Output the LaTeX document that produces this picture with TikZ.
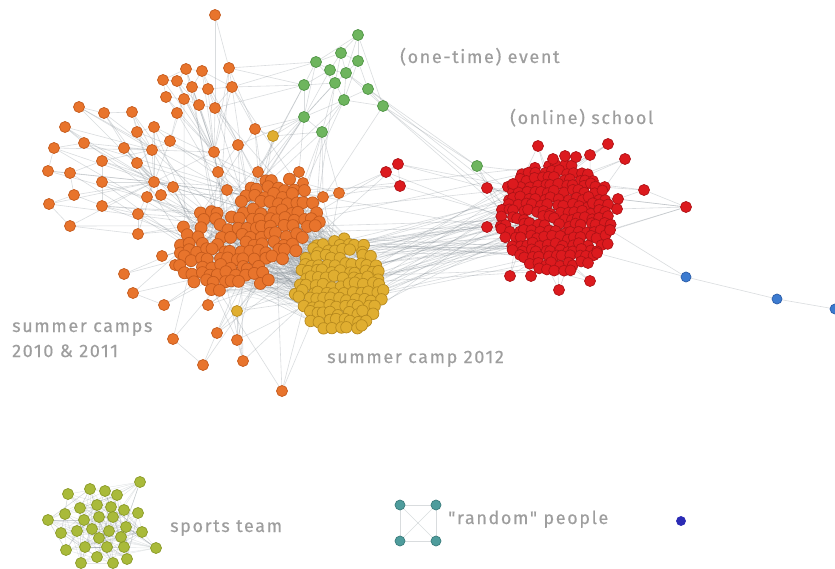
\documentclass[tikz,border=0pt]{standalone}
\usepackage{fontspec}
\newfontfamily\labfont[LetterSpace=9,FakeBold=0.35]{Fira Sans}
\pgfdeclarelayer{bg}
\pgfsetlayers{bg,main}
\newcount\gcnt
\definecolor{ocol}{HTML}{E8742C}\definecolor{ocolD}{HTML}{C45A1C}
\definecolor{ycol}{HTML}{E0AE30}\definecolor{ycolD}{HTML}{B88A1E}
\definecolor{rcol}{HTML}{DC1A1E}\definecolor{rcolD}{HTML}{AE1216}
\definecolor{gcol}{HTML}{6EB55E}\definecolor{gcolD}{HTML}{4F9445}
\definecolor{bcol}{HTML}{3C7BD0}\definecolor{bcolD}{HTML}{2A5CA8}
\definecolor{scol}{HTML}{A9BA3A}\definecolor{scolD}{HTML}{8A9A28}
\definecolor{tcol}{HTML}{4E9C9C}\definecolor{tcolD}{HTML}{3A7C7C}
\definecolor{ncol}{HTML}{2B2BB5}
\definecolor{edgec}{HTML}{7A848C}
\definecolor{labc}{HTML}{9E9E9E}
\tikzset{
  nd/.style={circle,inner sep=0pt,minimum size=11pt,line width=0.7pt},
  on/.style={nd,fill=ocol,draw=ocolD},
  onc/.style={nd,fill=ocol,draw=ocolD,minimum size=12pt},
  yn/.style={nd,fill=ycol,draw=ycolD},
  ync/.style={nd,fill=ycol,draw=ycolD,minimum size=11.5pt},
  rn/.style={nd,fill=rcol,draw=rcolD},
  gn/.style={nd,fill=gcol,draw=gcolD},
  bn/.style={nd,fill=bcol,draw=bcolD,minimum size=10pt},
  sn/.style={nd,fill=scol,draw=scolD,minimum size=11pt},
  tn/.style={nd,fill=tcol,draw=tcolD,minimum size=10pt},
  nn/.style={nd,fill=ncol,draw=ncol,minimum size=9pt},
  ed/.style={draw=edgec,draw opacity=0.28,line width=0.6pt},
  edd/.style={draw=edgec,draw opacity=0.2,line width=0.45pt},
  lab/.style={text=labc,font=\labfont\fontsize{18}{25}\selectfont,inner sep=0pt,align=left}
}
% #1 prefix #2 style #3 cx #4 cy #5 spacing #6 rows #7 cols #8 condition #9 keep prob
\newcommand{\hexcl}[9]{%
  \global\gcnt=0
  \foreach \row in {-#6,...,#6}{%
    \foreach \col in {-#7,...,#7}{%
      \pgfmathsetmacro{\px}{#3+(\col+0.5*mod(abs(\row),2))*#5+0.3*#5*rand}%
      \pgfmathsetmacro{\py}{#4+\row*0.87*#5+0.3*#5*rand}%
      \pgfmathtruncatemacro{\ins}{((#8) && (rnd<#9)) ? 1 : 0}%
      \ifnum\ins=1
        \global\advance\gcnt by 1
        \edef\kk{\the\gcnt}%
        \node[#2] (#1\kk) at (\px,\py) {};%
      \fi
    }%
  }%
  \expandafter\xdef\csname cnt#1\endcsname{\the\gcnt}%
}
\begin{document}
\begin{tikzpicture}[x=1pt,y=-1pt]
\pgfmathsetseed{4242}
\path[use as bounding box] (0,0) rectangle (835,569);
% ---------- red cluster ----------
\hexcl{R}{rn}{556}{218}{7.5}{9}{9}{(\px-556)*(\px-556)/3481+(\py-218)*(\py-218)/3025<1}{0.97}
\foreach \x/\y [count=\i] in {538/146,608/144,625/159,553/159,590/155,644/190,686/207,487/188,513/184,487/227,610/230,597/253,588/263,590/281,559/290,510/276,531/276,618/199,617/209,565/156,576/157}
  \node[rn] (RP\i) at (\x,\y) {};
\foreach \x/\y [count=\i] in {398/164,386/172,400/186}
  \node[rn] (RS\i) at (\x,\y) {};
% ---------- blue ----------
\node[bn] (B1) at (686,277) {};
\node[bn] (B2) at (777,299) {};
\node[bn] (B3) at (835,309) {};
% ---------- green ----------
\foreach \x/\y [count=\i] in {358/35,341/53,316/62,358/61,330/70,346/73,335/83,304/85,368/89,344/100,383/106,304/117,322/132,477/166}
  \node[gn] (G\i) at (\x,\y) {};
% ---------- orange periphery ----------
\foreach \x/\y [count=\i] in {215/15,186/69,202/71,229/68,163/80,177/81,192/87,208/89,232/87,166/97,184/99,199/105,215/108,177/113,
 79/107,104/113,132/112,65/127,137/132,154/127,170/141,255/129,238/145,214/152,84/143,54/148,124/148,152/150,102/161,137/163,
 48/171,70/173,102/182,154/182,173/187,218/172,258/172,74/195,147/197,161/195,49/204,102/206,138/214,70/226,138/234,
 227/190,255/192,339/193,323/197,299/172,303/183,162/256,175/265,124/274,133/293,164/305,208/305,173/339,217/333,237/340,
 203/365,243/361,282/391}
  \node[on] (P\i) at (\x,\y) {};
% ---------- orange core ----------
\hexcl{O}{onc}{250}{235}{9}{8}{9}{((\px-214)*(\px-214)/1444+(\py-250)*(\py-250)/1681<1) || ((\px-276)*(\px-276)/2025+(\py-218)*(\py-218)/1849<1) || ((\px-245)*(\px-245)/900+(\py-265)*(\py-265)/676<1)}{0.84}
% ---------- yellow ----------
\node[yn] (YL1) at (273,136) {};
\node[yn] (YL2) at (237,311) {};
\hexcl{Y}{ync}{340}{285}{8}{7}{7}{(\px-340)*(\px-340)/2116+(\py-285)*(\py-285)/2209<1}{0.97}
% ---------- sports team ----------
\foreach \x/\y [count=\i] in {140/482,90/489,105/491,68/494,117/495,80/508,97/505,111/507,124/510,138/513,65/514,84/520,99/517,113/517,48/520,126/527,142/532,92/529,109/531,77/531,61/533,99/538,121/537,85/547,107/547,124/547,156/548,66/550,97/557,127/559,81/563,113/563}
  \node[sn] (S\i) at (\x,\y) {};
% ---------- random people ----------
\node[tn] (T1) at (400,505) {};
\node[tn] (T2) at (436,505) {};
\node[tn] (T3) at (400,541) {};
\node[tn] (T4) at (436,541) {};
\node[nn] (N1) at (681,521) {};
% ---------- labels ----------
\node[lab,anchor=base west] (L1) at (400,63) {(one-time) event};
\node[lab,anchor=base west] (L2) at (510,124) {(online) school};
\node[lab,anchor=base west] (L3) at (12,357) {summer camps\\2010 \& 2011};
\node[lab,anchor=base west] (L4) at (327,363) {summer camp 2012};
\node[lab,anchor=base west] (L5) at (170,532) {sports team};
\node[lab,anchor=base west] (L6) at (448,524) {"random" people};
% ---------- edges ----------
\begin{pgfonlayer}{bg}
\fill[white] (0,0) rectangle (835,569);
% orange periphery
\foreach \p/\q in {1/4,1/13,2/3,2/5,2/6,3/7,3/8,5/6,6/7,7/8,5/10,6/11,10/11,11/12,7/12,8/13,12/13,11/14,10/14,4/9,8/9,9/13,2/7,6/12,3/9,
  2/24,3/24,5/24,6/24,7/24,8/24,10/24,11/24,12/24,13/24,14/24,9/24,4/24,13/23,9/22,4/22,14/21,11/21,
  15/34,16/34,17/34,18/34,19/34,25/34,26/34,27/34,29/34,30/34,31/34,32/34,33/34,38/34,41/34,42/34,43/34,44/34,45/34,20/34,21/34,
  15/28,16/28,17/28,19/28,25/28,27/28,29/28,30/28,20/28,18/28,26/28,
  15/16,16/17,18/25,25/26,26/31,31/32,32/29,29/33,33/42,38/41,41/44,42/43,27/30,19/20,20/21,17/19,44/45,43/45,32/38,
  24/34,28/34,24/28,24/36,24/23,34/35,34/39,34/40,28/21,36/46,37/47,50/51,22/37,23/36,48/49,48/51,60/62,58/61,55/56}
  \draw[ed] (P\p) -- (P\q);
\foreach \p/\n in {2/1,3/1,4/1,6/1,7/1,8/1,9/2,11/1,12/1,13/2,14/1,15/1,16/1,17/1,18/1,19/1,20/2,21/2,22/2,23/2,24/3,25/1,26/1,27/1,28/2,29/1,30/2,31/1,32/1,33/2,34/5,35/2,36/3,37/3,38/1,39/2,40/2,41/1,42/2,43/2,44/1,45/2,46/3,47/3,48/2,49/2,50/3,51/3,52/2,53/2,54/2,55/2,56/2,57/2,58/2,59/2,60/2,61/2,62/2,63/2}{
  \foreach \j in {1,...,\n}{
    \pgfmathtruncatemacro\ib{random(1,\cntO)}
    \draw[ed] (P\p) -- (O\ib);
  }
}
\foreach \p in {57,60,62,63,63,59,49,48}{
  \pgfmathtruncatemacro\ib{random(1,\cntY)}
  \draw[ed] (P\p) -- (Y\ib);
}
% orange core internal
\foreach \e in {1,...,260}{
  \pgfmathtruncatemacro\ia{random(1,\cntO)}
  \pgfmathtruncatemacro\ib{random(1,\cntO)}
  \draw[edd] (O\ia) -- (O\ib);
}
% orange - yellow
\foreach \e in {1,...,340}{
  \pgfmathtruncatemacro\ia{random(1,\cntO)}
  \pgfmathtruncatemacro\ib{random(1,\cntY)}
  \draw[edd] (O\ia) -- (Y\ib);
}
% yellow internal
\foreach \e in {1,...,100}{
  \pgfmathtruncatemacro\ia{random(1,\cntY)}
  \pgfmathtruncatemacro\ib{random(1,\cntY)}
  \draw[edd] (Y\ia) -- (Y\ib);
}
% yellow - red
\foreach \e in {1,...,45}{
  \pgfmathtruncatemacro\ia{random(1,\cntY)}
  \pgfmathtruncatemacro\ib{random(1,\cntR)}
  \draw[ed] (Y\ia) -- (R\ib);
}
% orange - red
\foreach \e in {1,...,10}{
  \pgfmathtruncatemacro\ia{random(1,\cntO)}
  \pgfmathtruncatemacro\ib{random(1,\cntR)}
  \draw[ed] (O\ia) -- (R\ib);
}
\foreach \e in {1,...,3}{
  \pgfmathtruncatemacro\ia{random(1,\cntO)}
  \draw[ed] (O\ia) -- (RP10);
}
% red internal
\foreach \e in {1,...,150}{
  \pgfmathtruncatemacro\ia{random(1,\cntR)}
  \pgfmathtruncatemacro\ib{random(1,\cntR)}
  \draw[edd] (R\ia) -- (R\ib);
}
\foreach \p in {1,...,21}{
  \foreach \j in {1,2,3}{
    \pgfmathtruncatemacro\ib{random(1,\cntR)}
    \draw[ed] (RP\p) -- (R\ib);
  }
}
\foreach \p/\q in {19/7,6/7,18/7,11/12}
  \draw[ed] (RP\p) -- (RP\q);
\draw[ed] (RP11) -- (B1);
\draw[ed] (RP12) -- (B1);
\draw[ed] (B1) -- (B2);
\draw[ed] (B2) -- (B3);
% red small
\draw[ed] (RS1) -- (RS2);
\draw[ed] (RS2) -- (RS3);
\draw[ed] (RS1) -- (RS3);
\draw[ed] (RS1) -- (RP8);
\draw[ed] (RS2) -- (P48);
\draw[ed] (RS3) -- (P49);
\foreach \s in {1,2,3}{
  \pgfmathtruncatemacro\ib{random(1,\cntR)}
  \draw[ed] (RS\s) -- (R\ib);
  \pgfmathtruncatemacro\ib{random(1,\cntO)}
  \draw[ed] (RS\s) -- (O\ib);
}
% green
\foreach \p/\q in {1/2,1/4,1/3,2/3,2/4,2/5,2/6,3/5,3/8,4/6,4/9,5/6,5/7,6/7,6/9,7/10,6/10,8/12,3/12,5/12,7/12,10/11,9/11,10/12,12/13,10/13,7/13,8/7,9/10,4/10,1/6,2/7,3/7,11/6,8/5,1/11,9/14,11/14}
  \draw[ed] (G\p) -- (G\q);
\foreach \p/\q in {8/9,8/4,8/13,3/4,3/9,12/22,12/23,13/48,13/49,13/51,12/50}
  \draw[ed] (G\p) -- (P\q);
\foreach \p/\n in {12/3,13/3,10/2,7/2,8/2,11/1}{
  \foreach \j in {1,...,\n}{
    \pgfmathtruncatemacro\ib{random(1,\cntO)}
    \draw[ed] (G\p) -- (O\ib);
  }
}
\foreach \p/\n in {14/4,11/2,9/1}{
  \foreach \j in {1,...,\n}{
    \pgfmathtruncatemacro\ib{random(1,\cntR)}
    \draw[ed] (G\p) -- (R\ib);
  }
}
% lone yellows
\draw[ed] (YL1) -- (G12);
\draw[ed] (YL1) -- (G13);
\draw[ed] (YL1) -- (P22);
\draw[ed] (YL2) -- (P60);
\draw[ed] (YL2) -- (P62);
\foreach \j in {1,2}{
  \pgfmathtruncatemacro\ib{random(1,\cntO)}
  \draw[ed] (YL1) -- (O\ib);
  \pgfmathtruncatemacro\ib{random(1,\cntO)}
  \draw[ed] (YL2) -- (O\ib);
  \pgfmathtruncatemacro\ib{random(1,\cntY)}
  \draw[ed] (YL2) -- (Y\ib);
}
% sports team
\foreach \e in {1,...,190}{
  \pgfmathtruncatemacro\ia{random(1,32)}
  \pgfmathtruncatemacro\ib{random(1,32)}
  \draw[edd] (S\ia) -- (S\ib);
}
% random people
\draw[ed] (T1) -- (T2) -- (T4) -- (T3) -- (T1);
\draw[ed] (T1) -- (T4);
\draw[ed] (T2) -- (T3);
\end{pgfonlayer}
\end{tikzpicture}
\end{document}
